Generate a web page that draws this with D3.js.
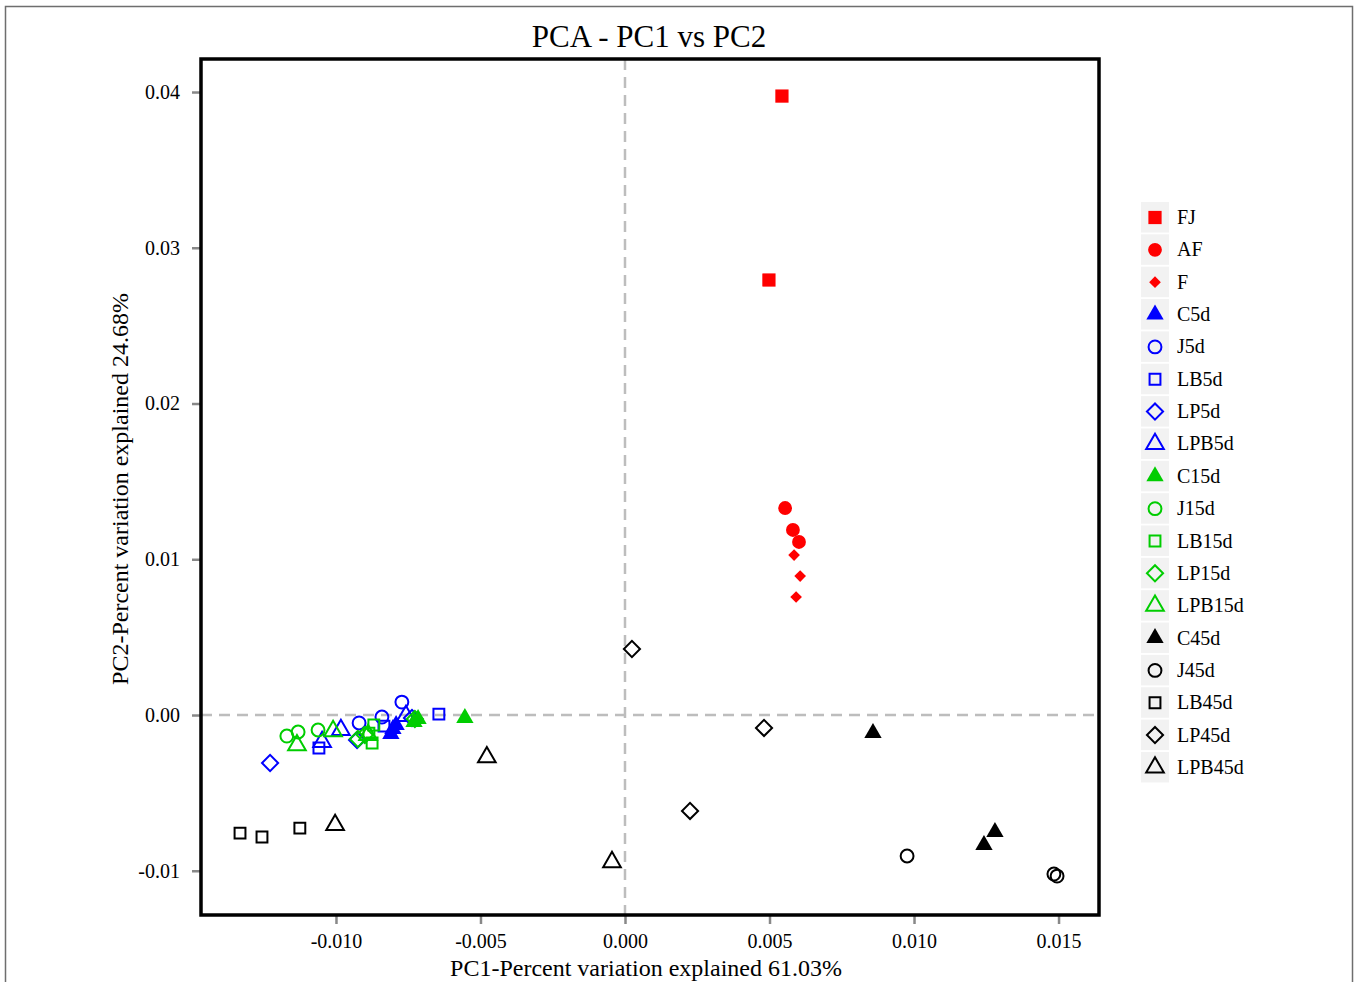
<!DOCTYPE html>
<html lang="en">
<head>
<meta charset="UTF-8">
<title>PCA - PC1 vs PC2</title>
<script src="https://cdn.jsdelivr.net/npm/d3@7"></script>
<style>
  body { margin: 0; background: #fff; }
  text { font-family: "Liberation Serif", "Times New Roman", serif; fill: #000; }
</style>
</head>
<body>
<svg id="main" width="1359" height="982"></svg>
<script>
// sample groups, in legend order
var groups = ["FJ", "AF", "F", "C5d", "J5d", "LB5d", "LP5d", "LPB5d",
              "C15d", "J15d", "LB15d", "LP15d", "LPB15d",
              "C45d", "J45d", "LB45d", "LP45d", "LPB45d"];
var groupColors = ["red", "red", "red", "blue", "blue", "blue", "blue", "blue",
                   "green", "green", "green", "green", "green",
                   "black", "black", "black", "black", "black"];
var groupShapes = ["square15", "circle16", "diamond18", "triangle17", "circle1", "square0", "diamond5", "triangle2",
                   "triangle17", "circle1", "square0", "diamond5", "triangle2",
                   "triangle17", "circle1", "square0", "diamond5", "triangle2"];

// PC1 scores, 3 replicates per group (FJ has 2)
var pc1 = [
  [0.00543, 0.00498],
  [0.00554, 0.00581, 0.00602],
  [0.00585, 0.00606, 0.00592],
  [-0.00810, -0.00803, -0.00792],
  [-0.00772, -0.00841, -0.00920],
  [-0.00644, -0.00834, -0.01059],
  [-0.01228, -0.00927, -0.00737],
  [-0.01048, -0.00983, -0.00758],
  [-0.00554, -0.00716, -0.00730],
  [-0.01170, -0.01131, -0.01062],
  [-0.00869, -0.00886, -0.00875],
  [-0.00900, -0.00727, -0.00924],
  [-0.01135, -0.01010, -0.00889],
  [0.00858, 0.01242, 0.01280],
  [0.00976, 0.01484, 0.01495],
  [-0.01332, -0.01256, -0.01125],
  [0.00024, 0.00481, 0.00225],
  [-0.01003, -0.00478, -0.00045]
];
// PC2 scores
var pc2 = [
  [0.03974, 0.02793],
  [0.01329, 0.01188, 0.01111],
  [0.01027, 0.00892, 0.00758],
  [-0.00122, -0.00090, -0.00064],
  [0.00083, -0.00013, -0.00051],
  [0.00006, -0.00071, -0.00212],
  [-0.00308, -0.00161, -0.00019],
  [-0.00173, -0.00096, -0.00006],
  [-0.00019, -0.00026, -0.00045],
  [-0.00135, -0.00109, -0.00096],
  [-0.00064, -0.00116, -0.00180],
  [-0.00128, -0.00026, -0.00154],
  [-0.00193, -0.00103, -0.00128],
  [-0.00116, -0.00835, -0.00751],
  [-0.00905, -0.01021, -0.01034],
  [-0.00758, -0.00783, -0.00726],
  [0.00424, -0.00083, -0.00616],
  [-0.00706, -0.00270, -0.00944]
];
var xTicks = [-0.010, -0.005, 0.000, 0.005, 0.010, 0.015];
var yTicks = [-0.01, 0.00, 0.01, 0.02, 0.03, 0.04];

var palette = { red: "#ff0000", blue: "#0000ff", green: "#00cd00", black: "#000000" };

var plot = { left: 201, top: 59, right: 1099, bottom: 915 };

var x = d3.scaleLinear().domain([-0.01467, 0.0164]).range([plot.left, plot.right]);
var y = d3.scaleLinear().domain([-0.01284, 0.04212]).range([plot.bottom, plot.top]);

var svg = d3.select("#main");

// outer border
svg.append("rect")
  .attr("x", 5.5).attr("y", 6.5)
  .attr("width", 1347).attr("height", 980)
  .attr("fill", "none").attr("stroke", "#6e6e6e").attr("stroke-width", 1.5);

// title
svg.append("text")
  .attr("x", 649).attr("y", 47)
  .attr("text-anchor", "middle")
  .style("font-size", "31px")
  .text("PCA - PC1 vs PC2");

// zero reference lines
svg.append("line")
  .attr("x1", x(0)).attr("x2", x(0))
  .attr("y1", plot.top).attr("y2", plot.bottom)
  .attr("stroke", "#bdbdbd").attr("stroke-width", 2.5).attr("stroke-dasharray", "11,7");
svg.append("line")
  .attr("x1", plot.left).attr("x2", plot.right)
  .attr("y1", y(0)).attr("y2", y(0))
  .attr("stroke", "#bdbdbd").attr("stroke-width", 2.5).attr("stroke-dasharray", "11,7");

// axes
var xAxis = svg.append("g")
  .attr("transform", "translate(0," + plot.bottom + ")")
  .call(d3.axisBottom(x).tickValues(xTicks).tickSize(9).tickPadding(10));
var yAxis = svg.append("g")
  .attr("transform", "translate(" + plot.left + ",0)")
  .call(d3.axisLeft(y).tickValues(yTicks).tickSize(9).tickPadding(12));
[xAxis, yAxis].forEach(function(a) {
  a.select(".domain").remove();
  a.selectAll(".tick line").attr("stroke", "#888").attr("stroke-width", 2.5);
  a.selectAll(".tick text")
    .style("font-family", "'Liberation Serif', serif")
    .style("font-size", "20px").attr("fill", "#000");
});
xAxis.selectAll(".tick text").text(function(d) { return d3.format(".3f")(d).replace("−", "-"); });
yAxis.selectAll(".tick text").text(function(d) { return d3.format(".2f")(d).replace("−", "-"); });

// axis titles
svg.append("text")
  .attr("x", 646).attr("y", 976)
  .attr("text-anchor", "middle")
  .style("font-size", "24px")
  .text("PC1-Percent variation explained 61.03%");
svg.append("text")
  .attr("transform", "translate(128,489) rotate(-90)")
  .attr("text-anchor", "middle")
  .style("font-size", "24px")
  .text("PC2-Percent variation explained 24.68%");

// marker builder
function marker(shape) {
  if (shape === "square15") return { path: d3.symbol(d3.symbolSquare, 175)(), fill: true, rot: 0 };
  if (shape === "circle16") return { path: d3.symbol(d3.symbolCircle, 150)(), fill: true, rot: 0 };
  if (shape === "diamond18") return { path: d3.symbol(d3.symbolSquare, 68)(), fill: true, rot: 45 };
  if (shape === "triangle17") return { path: d3.symbol(d3.symbolTriangle, 130)(), fill: true, rot: 0 };
  if (shape === "circle1") return { path: d3.symbol(d3.symbolCircle, 130)(), fill: false, rot: 0 };
  if (shape === "square0") return { path: d3.symbol(d3.symbolSquare, 118)(), fill: false, rot: 0 };
  if (shape === "diamond5") return { path: d3.symbol(d3.symbolSquare, 130)(), fill: false, rot: 45 };
  return { path: d3.symbol(d3.symbolTriangle, 135)(), fill: false, rot: 0 };
}

var points = [];
groups.forEach(function(g, i) {
  pc1[i].forEach(function(v, j) {
    points.push({ group: i, px: v, py: pc2[i][j] });
  });
});

svg.append("g").selectAll("path")
  .data(points)
  .join("path")
  .attr("d", function(d) { return marker(groupShapes[d.group]).path; })
  .attr("transform", function(d) {
    return "translate(" + x(d.px) + "," + y(d.py) + ") rotate(" + marker(groupShapes[d.group]).rot + ")";
  })
  .attr("fill", function(d) { return marker(groupShapes[d.group]).fill ? palette[groupColors[d.group]] : "none"; })
  .attr("stroke", function(d) { return marker(groupShapes[d.group]).fill ? "none" : palette[groupColors[d.group]]; })
  .attr("stroke-width", 2);

// panel frame
svg.append("rect")
  .attr("x", plot.left).attr("y", plot.top)
  .attr("width", plot.right - plot.left).attr("height", plot.bottom - plot.top)
  .attr("fill", "none").attr("stroke", "#000").attr("stroke-width", 3.5);

// legend
var legend = svg.append("g").attr("transform", "translate(1141,202)");
var rowH = 32.35;
var item = legend.selectAll("g")
  .data(groups)
  .join("g")
  .attr("transform", function(d, i) { return "translate(0," + (i * rowH) + ")"; });
item.append("rect")
  .attr("width", 28).attr("height", 30.5)
  .attr("fill", "#f2f2f2");
item.append("path")
  .attr("d", function(d, i) { return marker(groupShapes[i]).path; })
  .attr("transform", function(d, i) {
    var m = marker(groupShapes[i]);
    return "translate(14,15.5) rotate(" + m.rot + ")";
  })
  .attr("fill", function(d, i) { return marker(groupShapes[i]).fill ? palette[groupColors[i]] : "none"; })
  .attr("stroke", function(d, i) { return marker(groupShapes[i]).fill ? "none" : palette[groupColors[i]]; })
  .attr("stroke-width", 2);
item.append("text")
  .attr("x", 36).attr("y", 22)
  .style("font-size", "20px")
  .text(function(d) { return d; });
</script>
</body>
</html>
